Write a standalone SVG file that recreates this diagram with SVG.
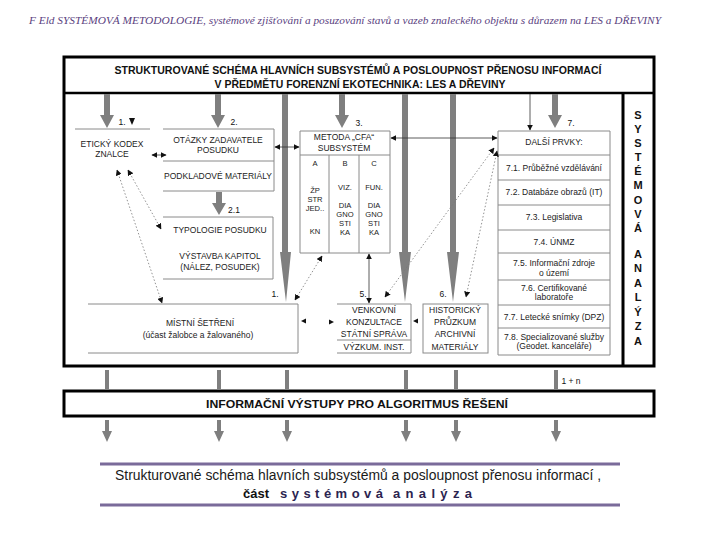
<svg xmlns="http://www.w3.org/2000/svg" width="720" height="540" viewBox="0 0 720 540">
<style>
.t{font-family:"Liberation Sans",Arial,sans-serif;font-size:8.5px;fill:#222;text-anchor:middle}
.c{font-family:"Liberation Sans",Arial,sans-serif;font-size:7.6px;fill:#222;text-anchor:middle}
.hb{font-family:"Liberation Sans",Arial,sans-serif;font-size:10.5px;font-weight:bold;fill:#111;text-anchor:middle}
.lb{font-family:"Liberation Sans",Arial,sans-serif;font-size:8.5px;fill:#111;text-anchor:middle}
.vl{font-family:"Liberation Sans",Arial,sans-serif;font-size:11px;font-weight:bold;fill:#111;text-anchor:middle}
.bx{fill:none;stroke:#8a8a8a;stroke-width:1}
.ga{fill:#7f7f7f;stroke:none}
.thin{fill:none;stroke:#333;stroke-width:0.8}
.dot{fill:none;stroke:#777;stroke-width:0.8;stroke-dasharray:1.5 2}
.frame{fill:none;stroke:#000;stroke-width:3}
</style>
<defs>
<marker id="ah" viewBox="0 0 10 10" refX="9" refY="5" markerWidth="6" markerHeight="6" markerUnits="userSpaceOnUse" orient="auto-start-reverse">
<path d="M0,0 L10,5 L0,10 z" fill="#111"/>
</marker>
</defs>

<text x="345" y="24" font-family="'Liberation Serif','Times New Roman',serif" font-style="italic" font-size="11" fill="#5b3f7f" text-anchor="middle" textLength="632" lengthAdjust="spacingAndGlyphs">F Eld SYSTÉMOVÁ METODOLOGIE, systémové zjišťování a posuzování stavů a vazeb znaleckého objektu s důrazem na LES a DŘEVINY</text>

<g id="frame">
<rect class="frame" x="64" y="57" width="590" height="309"/>
<line x1="64" y1="93" x2="654" y2="93" stroke="#000" stroke-width="2.5"/>
<line x1="623" y1="93" x2="623" y2="366" stroke="#000" stroke-width="3"/>
<text class="hb" x="358" y="74" textLength="487" lengthAdjust="spacingAndGlyphs">STRUKTUROVANÉ SCHÉMA HLAVNÍCH SUBSYSTÉMŮ A POSLOUPNOST PŘENOSU INFORMACÍ</text>
<text class="hb" x="360" y="88" textLength="291" lengthAdjust="spacingAndGlyphs">V PŘEDMĚTU FORENZNÍ EKOTECHNIKA: LES A DŘEVINY</text>
</g>

<g id="side-label">
<text class="vl" x="638" y="119">S</text>
<text class="vl" x="638" y="133">Y</text>
<text class="vl" x="638" y="147">S</text>
<text class="vl" x="638" y="161">T</text>
<text class="vl" x="638" y="175">É</text>
<text class="vl" x="638" y="189">M</text>
<text class="vl" x="638" y="204">O</text>
<text class="vl" x="638" y="218">V</text>
<text class="vl" x="638" y="232">Á</text>
<text class="vl" x="638" y="258">A</text>
<text class="vl" x="638" y="272">N</text>
<text class="vl" x="638" y="287">A</text>
<text class="vl" x="638" y="301">L</text>
<text class="vl" x="638" y="316">Ý</text>
<text class="vl" x="638" y="330">Z</text>
<text class="vl" x="638" y="345">A</text>
</g>

<g id="eticky-kodex">
<line class="bx" x1="75" y1="129" x2="150" y2="129"/>
<text class="t" x="112" y="147">ETICKÝ KODEX</text>
<text class="t" x="112" y="157">ZNALCE</text>
</g>

<g id="otazky">
<path class="bx" d="M163,129 H274 V191 H163 M163,161 H274"/>
<text class="t" x="218" y="143">OTÁZKY ZADAVATELE</text>
<text class="t" x="218" y="153">POSUDKU</text>
<text class="t" x="218" y="179">PODKLADOVÉ MATERIÁLY</text>
</g>

<g id="typologie">
<path class="bx" d="M163,217 H273 V279 H163"/>
<text class="t" x="220" y="233">TYPOLOGIE POSUDKU</text>
<text class="t" x="220" y="259">VÝSTAVBA KAPITOL</text>
<text class="t" x="220" y="270">(NÁLEZ, POSUDEK)</text>
</g>

<g id="mistni-setreni">
<path class="bx" d="M88,304 H298 V353 H88"/>
<text class="t" x="200" y="326" font-size="9">MÍSTNÍ ŠETŘENÍ</text>
<text class="t" x="198" y="338" font-size="9">(účast žalobce a žalovaného)</text>
</g>

<g id="metoda">
<path class="bx" d="M300,131 H390 V253 H300 Z M300,155 H390 M329,155 V253 M359,155 V253"/>
<text class="t" x="344" y="140">METODA „CFA“</text>
<text class="t" x="344" y="151">SUBSYSTÉM</text>
<text class="c" x="315" y="166">A</text>
<text class="c" x="345" y="166">B</text>
<text class="c" x="374" y="166">C</text>
<text class="c" x="315" y="193">ŽP</text>
<text class="c" x="315" y="202">STR</text>
<text class="c" x="315" y="211">JED..</text>
<text class="c" x="315" y="234">KN</text>
<text class="c" x="345" y="190">VIZ.</text>
<text class="c" x="345" y="208">DIA</text>
<text class="c" x="345" y="217">GNO</text>
<text class="c" x="345" y="226">STI</text>
<text class="c" x="345" y="235">KA</text>
<text class="c" x="374" y="190">FUN.</text>
<text class="c" x="374" y="208">DIA</text>
<text class="c" x="374" y="217">GNO</text>
<text class="c" x="374" y="226">STI</text>
<text class="c" x="374" y="235">KA</text>
</g>

<g id="dalsi-prvky">
<path class="bx" d="M498,131 H610 V355 H498 Z M498,155 H610 M498,180 H610 M498,205 H610 M498,230 H610 M498,253 H610 M498,280 H610 M498,305 H610 M498,328 H610"/>
<text class="t" x="554" y="145">DALŠÍ PRVKY:</text>
<text class="t" x="554" y="171">7.1. Průběžné vzdělávání</text>
<text class="t" x="554" y="195">7.2. Databáze obrazů (IT)</text>
<text class="t" x="554" y="220">7.3. Legislativa</text>
<text class="t" x="554" y="245">7.4. ÚNMZ</text>
<text class="t" x="554" y="266">7.5. Informační zdroje</text>
<text class="t" x="554" y="276">o území</text>
<text class="t" x="554" y="291">7.6. Certifikované</text>
<text class="t" x="554" y="300">laboratoře</text>
<text class="t" x="554" y="320">7.7. Letecké snímky (DPZ)</text>
<text class="t" x="554" y="340">7.8. Specializované služby</text>
<text class="t" x="554" y="349">(Geodet. kanceláře)</text>
</g>

<g id="venkovni">
<path class="bx" d="M337,304 H411 V353 H337 M337,340 H411"/>
<text class="t" x="374" y="313">VENKOVNÍ</text>
<text class="t" x="374" y="325">KONZULTACE</text>
<text class="t" x="374" y="337">STÁTNÍ SPRÁVA</text>
<text class="t" x="374" y="350">VÝZKUM. INST.</text>
</g>

<g id="historicky">
<rect class="bx" x="423" y="304" width="65" height="49"/>
<text class="t" x="455" y="313">HISTORICKÝ</text>
<text class="t" x="455" y="325">PRŮZKUM</text>
<text class="t" x="455" y="337">ARCHIVNÍ</text>
<text class="t" x="455" y="350">MATERIÁLY</text>
</g>

<g id="vystupy">
<rect class="frame" x="64" y="391" width="590" height="25"/>
<text class="hb" x="357" y="408" textLength="302" lengthAdjust="spacingAndGlyphs">INFORMAČNÍ VÝSTUPY PRO ALGORITMUS ŘEŠENÍ</text>
</g>

<g id="connectors">
<polygon class="ga" points="104,94 110,94 110,115 114,115 107,128 100,115 104,115"/>
<polygon class="ga" points="215,94 221,94 221,115 225,115 218,128 211,115 215,115"/>
<polygon class="ga" points="339,94 345,94 345,115 349,115 342,128 335,115 339,115"/>
<polygon class="ga" points="552,94 558,94 558,115 562,115 555,128 548,115 552,115"/>
<polygon class="ga" points="216,192 222,192 222,203 226,203 219,215 212,203 216,203"/>
<polygon class="ga" points="282,94 288,94 288,252 291,252 286,302 280,252 282,252"/>
<polygon class="ga" points="402,94 408,94 408,252 411,252 405,302 399,252 402,252"/>
<polygon class="ga" points="450,94 456,94 456,252 459,252 453,302 447,252 450,252"/>
<line class="thin" x1="530" y1="94" x2="530" y2="130" marker-end="url(#ah)"/>
<polygon points="129,118 135,118 132,125" fill="#111"/>
<line class="thin" x1="152" y1="155" x2="166" y2="155" marker-start="url(#ah)" marker-end="url(#ah)"/>
<line class="thin" x1="275" y1="147" x2="299" y2="147" marker-start="url(#ah)" marker-end="url(#ah)"/>
<line class="thin" x1="391" y1="138" x2="497" y2="138" marker-start="url(#ah)" marker-end="url(#ah)"/>
<line class="thin" x1="369" y1="254" x2="369" y2="303" marker-start="url(#ah)" marker-end="url(#ah)"/>
<line class="dot" x1="117" y1="170" x2="162" y2="303" marker-start="url(#ah)" marker-end="url(#ah)"/>
<line class="dot" x1="128" y1="170" x2="161" y2="229" marker-start="url(#ah)" marker-end="url(#ah)"/>
<line class="dot" x1="322" y1="256" x2="295" y2="300" marker-start="url(#ah)" marker-end="url(#ah)"/>
<line class="dot" x1="494" y1="148" x2="385" y2="297" marker-start="url(#ah)" marker-end="url(#ah)"/>
<line class="dot" x1="497" y1="151" x2="466" y2="297" marker-start="url(#ah)" marker-end="url(#ah)"/>
<polygon points="301,321 306,318.5 306,323.5" fill="#111"/>
<polygon points="334,322 329,319.5 329,324.5" fill="#111"/>
<polygon points="413,321 418,318.5 418,323.5" fill="#111"/>
<rect class="ga" x="105" y="370" width="4" height="19"/>
<rect class="ga" x="217" y="370" width="4" height="19"/>
<rect class="ga" x="285" y="370" width="4" height="19"/>
<rect class="ga" x="404" y="370" width="4" height="19"/>
<rect class="ga" x="454" y="370" width="4" height="19"/>
<rect class="ga" x="554" y="370" width="4" height="19"/>
<polygon class="ga" points="105,420 109,420 109,431 112,431 107,442 102,431 105,431"/>
<polygon class="ga" points="217,420 221,420 221,431 224,431 219,442 214,431 217,431"/>
<polygon class="ga" points="285,420 289,420 289,431 292,431 287,442 282,431 285,431"/>
<polygon class="ga" points="404,420 408,420 408,431 411,431 406,442 401,431 404,431"/>
<polygon class="ga" points="454,420 458,420 458,431 461,431 456,442 451,431 454,431"/>
<polygon class="ga" points="554,420 558,420 558,431 561,431 556,442 551,431 554,431"/>
</g>

<g id="labels">
<text class="lb" x="122" y="125">1.</text>
<text class="lb" x="234" y="125">2.</text>
<text class="lb" x="359" y="126">3.</text>
<text class="lb" x="571" y="126">7.</text>
<text class="lb" x="234" y="213">2.1</text>
<text class="lb" x="275" y="297">1.</text>
<text class="lb" x="363" y="297">5.</text>
<text class="lb" x="443" y="297">6.</text>
<text class="lb" x="571" y="384" font-size="7.5">1 + n</text>
</g>

<g id="caption">
<line x1="100" y1="464" x2="620" y2="464" stroke="#7a6b9a" stroke-width="3"/>
<line x1="100" y1="505" x2="620" y2="505" stroke="#7a6b9a" stroke-width="3"/>
<text x="358" y="480" font-family="'Liberation Sans',Arial,sans-serif" font-size="14" fill="#1a1a1a" text-anchor="middle" textLength="486" lengthAdjust="spacingAndGlyphs">Strukturované schéma hlavních subsystémů a posloupnost přenosu informací ,</text>
<text x="243" y="498" font-family="'Liberation Sans',Arial,sans-serif" font-size="13" font-weight="bold" fill="#111">část</text>
<text x="280" y="498" font-family="'Liberation Sans',Arial,sans-serif" font-size="13" font-weight="bold" fill="#2b2450" textLength="103" lengthAdjust="spacing">systémová</text>
<text x="393" y="498" font-family="'Liberation Sans',Arial,sans-serif" font-size="13" font-weight="bold" fill="#2b2450" textLength="79" lengthAdjust="spacing">analýza</text>
</g>
</svg>
